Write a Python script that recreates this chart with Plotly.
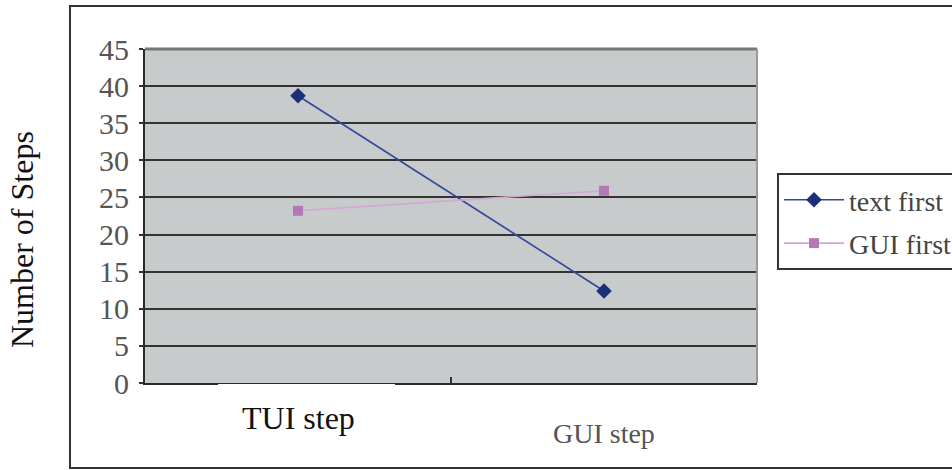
import plotly.graph_objects as go

# Step counts per task order
categories = ["TUI step", "GUI step"]
text_first = [38.7, 12.4]
gui_first = [23.2, 25.9]
y_ticks = [0, 5, 10, 15, 20, 25, 30, 35, 40, 45]

W, H = 952, 470
L, R, T, B = 145, 195, 49, 87
PW, PH = W - L - R, H - T - B


def px(x):
    return (x - L) / PW


def py(y):
    return (H - B - y) / PH


SERIF = "Liberation Serif"

fig = go.Figure()
fig.add_trace(go.Scatter(
    x=categories, y=text_first, name="text first", mode="lines+markers",
    line=dict(color="#34479a", width=1.6),
    marker=dict(symbol="diamond", size=12, color="#1c2f7a"),
    legendgroup="a",
))
fig.add_trace(go.Scatter(
    x=categories, y=gui_first, name="GUI first", mode="lines+markers",
    line=dict(color="#d6a6d6", width=1.6),
    marker=dict(symbol="square", size=10, color="#b478b4"),
    legendgroup="b",
))

fig.update_layout(
    width=W, height=H,
    margin=dict(l=L, r=R, t=T, b=B, autoexpand=False),
    paper_bgcolor="white",
    plot_bgcolor="#c8cbcc",
    font=dict(family=SERIF),
    xaxis=dict(
        type="category", range=[-0.5, 1.5], showgrid=False,
        showticklabels=False, tickson="boundaries", ticks="inside",
        ticklen=6, tickwidth=2, tickcolor="#333",
        showline=True, linecolor="#2a2a2a", linewidth=2, zeroline=False,
    ),
    yaxis=dict(
        range=[0, 45], tickvals=y_ticks, ticks="outside", ticklen=4,
        tickwidth=2, tickcolor="#333",
        showgrid=True, gridcolor="#333333", gridwidth=2.2, zeroline=False,
        showline=True, linecolor="#2a2a2a", linewidth=2,
        tickfont=dict(family=SERIF, size=30, color="#555"),
        ticklabelstandoff=4,
    ),
    legend=dict(
        x=px(777), y=py(173), xanchor="left", yanchor="top",
        bgcolor="white", bordercolor="#333", borderwidth=2,
        font=dict(family=SERIF, size=28, color="#444"),
        itemwidth=60, tracegroupgap=4,
    ),
    showlegend=True,
)

# Plot-area frame: grey top and right edges
fig.add_shape(type="line", xref="paper", yref="paper", x0=0, x1=1, y0=1, y1=1,
              line=dict(color="#777", width=3), layer="above")
fig.add_shape(type="line", xref="paper", yref="paper", x0=1, x1=1, y0=0, y1=1,
              line=dict(color="#999", width=2), layer="above")

# White strip under the first category label
fig.add_shape(type="rect", xref="paper", yref="paper",
              x0=px(218), x1=px(395), y0=py(388), y1=py(384),
              line=dict(width=0), fillcolor="white", layer="above")

# Outer chart frame
fig.add_shape(type="rect", xref="paper", yref="paper",
              x0=px(70), x1=px(990), y0=py(468), y1=py(6),
              line=dict(color="#333", width=2), fillcolor="rgba(0,0,0,0)",
              layer="above")

# Category labels
fig.add_annotation(x=categories[0], xref="x", y=py(418), yref="paper",
                   text="TUI step", showarrow=False, xanchor="center",
                   yanchor="middle", font=dict(family=SERIF, size=32, color="#111"))
fig.add_annotation(x=categories[1], xref="x", y=py(433), yref="paper",
                   text="GUI step", showarrow=False, xanchor="center",
                   yanchor="middle", font=dict(family=SERIF, size=28, color="#555"))

# Y-axis title
fig.add_annotation(x=px(22), xref="paper", y=py(240), yref="paper",
                   text="Number of Steps", textangle=-90, showarrow=False,
                   xanchor="center", yanchor="middle",
                   font=dict(family=SERIF, size=32, color="#111"))

fig.write_html("out.html")
